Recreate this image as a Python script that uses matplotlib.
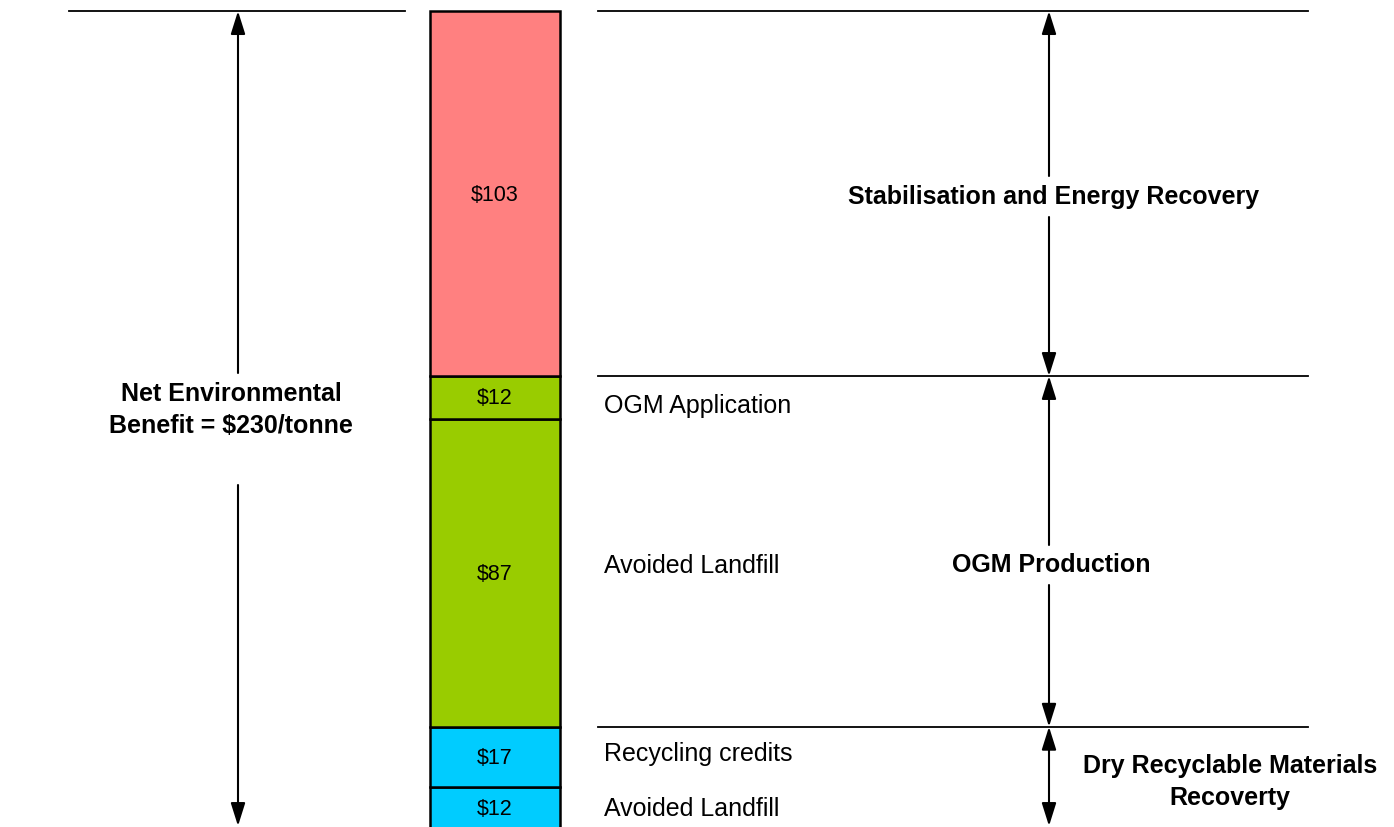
import matplotlib
matplotlib.use("Agg")
import matplotlib.pyplot as plt

# ---- data ----
segments = ["Avoided Landfill", "Recycling credits", "Avoided Landfill", "OGM Application", ""]
values = [12, 17, 87, 12, 103]
colors = ["#00CCFF", "#00CCFF", "#99CC00", "#99CC00", "#FF8080"]
value_labels = ["$12", "$17", "$87", "$12", "$103"]
groups = ["Dry Recyclable Materials\nRecoverty", "OGM Production", "Stabilisation and Energy Recovery"]
group_sizes = [2, 2, 1]  # number of segments per group (bottom to top)
total_label = "Net Environmental\nBenefit = $230/tonne"

plt.rcParams['font.family'] = ['Liberation Sans', 'DejaVu Sans']

W, H = 1394, 827
fig = plt.figure(figsize=(W / 100, H / 100), dpi=100)
ax = fig.add_axes([0, 0, 1, 1])
ax.set_xlim(0, W)
PXU = 3.543          # pixels per $ unit
Y0PX = 829.5         # pixel row of value 0
ax.set_ylim((Y0PX - H) / PXU, Y0PX / PXU)
ax.axis('off')

def py(p):
    """pixel row -> data y (layout only)"""
    return (Y0PX - p) / PXU

def dy(px):
    return px / PXU

BOLD = 18
NORM = 18
SEG = 15.5

# ---- stacked bar ----
bar_cx, bar_w = 495, 130
bottoms = []
b = 0
for v in values:
    bottoms.append(b)
    b += v
total = b
ax.bar([bar_cx] * len(values), values, bottom=bottoms, width=bar_w, color=colors,
       edgecolor='black', linewidth=1.8, zorder=3)
for v, bt, lab in zip(values, bottoms, value_labels):
    ax.text(bar_cx, bt + v / 2 - dy(1.5), lab, ha='center', va='center', fontsize=SEG, zorder=4)

# right-hand segment names
name_offsets_px = [1, -3, -7, 9, 0]
for v, bt, name, off in zip(values, bottoms, segments, name_offsets_px):
    if name:
        ax.text(604, bt + v / 2 - dy(off), name, ha='left', va='center', fontsize=NORM)

# ---- reference lines ----
ax.plot([69, 405], [total, total], color='black', lw=1.3)
bounds = [0]
i = 0
for g in group_sizes:
    bounds.append(sum(values[:i + g]))
    i += g
for bd in bounds[1:]:
    ax.plot([598, 1308], [bd, bd], color='black', lw=1.3)

arrow_kw = dict(color='black', lw=1.5, shrinkA=0, shrinkB=0, mutation_scale=20)
head = ',head_length=0.7,head_width=0.22'

def arrow(x, y_from, y_to):
    ax.annotate('', xy=(x, y_to), xytext=(x, y_from),
                arrowprops=dict(arrowstyle='-|>' + head, **arrow_kw))

# left total arrow with gap for label
lx = 238
arrow(lx, py(373), total)
arrow(lx, py(485), py(826))
ax.text(231, py(410), total_label, ha='center', va='center', fontsize=BOLD,
        fontweight='bold', linespacing=1.42)

# right group arrows
rx = 1049
# Stabilisation
arrow(rx, py(176), bounds[3])
arrow(rx, py(217), bounds[2])
ax.text(1054, py(197), groups[2], ha='center', va='center', fontsize=BOLD, fontweight='bold')
# OGM production
arrow(rx, py(545), bounds[2])
arrow(rx, py(585), bounds[1])
ax.text(1051, py(565), groups[1], ha='center', va='center', fontsize=BOLD, fontweight='bold')
# Dry recyclables
ax.annotate('', xy=(rx, py(826)), xytext=(rx, bounds[1]),
            arrowprops=dict(arrowstyle='<|-|>' + head, **arrow_kw))
ax.text(1230, py(782), groups[0], ha='center', va='center', fontsize=BOLD,
        fontweight='bold', linespacing=1.42)

fig.savefig('out.png', dpi=100, facecolor='white')
